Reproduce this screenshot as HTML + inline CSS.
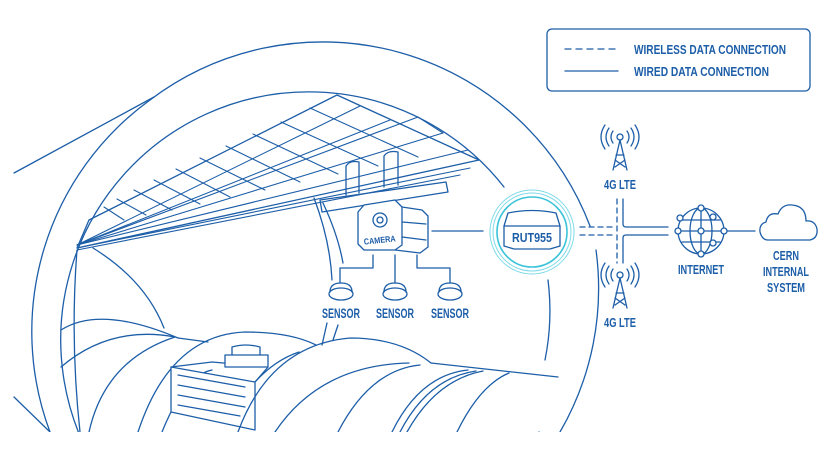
<!DOCTYPE html>
<html><head><meta charset="utf-8"><style>
html,body{margin:0;padding:0;background:#fff;width:826px;height:463px;overflow:hidden}
svg{display:block;position:absolute;left:0;top:0}
text{font-family:"Liberation Sans Narrow","Liberation Sans",sans-serif;font-weight:bold;fill:#1d5ea8}
</style></head><body>
<svg width="826" height="463" viewBox="0 0 826 463" xmlns="http://www.w3.org/2000/svg">
<defs><clipPath id="c"><rect x="0" y="0" width="826" height="432"/></clipPath></defs>
<g fill="none" stroke="#1d5ea8" stroke-width="1.3" stroke-linecap="round" stroke-linejoin="round" clip-path="url(#c)">
<path d="M 590 226 A 286 286 0 0 0 150 100"/>
<path d="M 150 100 A 286 286 0 0 0 50 432"/>
<path d="M 596 250 A 286 286 0 0 1 560 432"/>
<path d="M 504 187 A 248 248 0 1 0 539 432"/>
<path d="M 548 280 A 248 248 0 0 1 545 360"/>
<line x1="14" y1="173" x2="154" y2="97"/>
<line x1="14" y1="397" x2="50" y2="432"/>
<path d="M 77 250 Q 70 340 80 432"/>
<path d="M 89 220 L 337 95 L 479 160 L 77 248 Z"/>
<g stroke-width="1.1">
<line x1="77" y1="245" x2="390" y2="120"/>
<line x1="77" y1="245" x2="418" y2="117"/>
<line x1="77" y1="245" x2="443" y2="133"/>
<line x1="77" y1="245" x2="468" y2="150"/>
<line x1="77" y1="245" x2="360" y2="106"/>
<line x1="77" y1="248" x2="470" y2="168"/>
<line x1="77" y1="250" x2="460" y2="175"/>
<line x1="418" y1="117" x2="443" y2="133"/>
<path d="M 310 108 L 418 157 M 281 122 L 378 166 M 253 134 L 338 174 M 226 146 L 300 182 M 200 158 L 265 190 M 176 169 L 230 197 M 154 180 L 200 204 M 134 190 L 172 210 M 117 199 L 146 215 M 104 207 L 124 220"/>
</g>
<path d="M 320 200 L 446 182 L 448 192 L 322 212 Z"/>
<path d="M 346 195 L 346 166 Q 350 160 359 162 L 359 193"/>
<path d="M 384 187 L 384 156 Q 388 150 398 152 L 398 185"/>
<path d="M 314 198 Q 330 240 332 280"/>
<path d="M 323 203 Q 338 235 343 263"/>
<path d="M 327 323 L 322 345 M 338 325 L 333 340"/>
<path d="M 364 205 L 395 200 L 402 207 L 402 245 L 395 250 L 364 250 L 358 244 L 358 212 Z" fill="#fff"/>
<path d="M 402 207 L 422 210 L 428 216 L 428 247 L 420 253 L 395 250"/>
<path d="M 402 222 L 426 224 M 402 237 L 426 240"/>
<circle cx="380" cy="220" r="7"/><circle cx="380" cy="220" r="3"/>
<line x1="432" y1="231" x2="483" y2="231"/>
<path d="M 373 255 L 373 268 L 340 268 L 340 283"/>
<path d="M 395 255 L 395 283"/>
<path d="M 417 255 L 417 268 L 450 268 L 450 283"/>
<path d="M 330 292 Q 330 283 341 283 Q 352 283 352 292"/><ellipse cx="341" cy="294" rx="12" ry="6"/>
<path d="M 384 292 Q 384 283 395 283 Q 406 283 406 292"/><ellipse cx="395" cy="294" rx="12" ry="6"/>
<path d="M 439 292 Q 439 283 450 283 Q 461 283 461 292"/><ellipse cx="450" cy="294" rx="12" ry="6"/>
<circle cx="532" cy="232" r="42" stroke="#7fdbe8" stroke-width="1"/>
<circle cx="532" cy="232" r="39" stroke="#7fdbe8" stroke-width="1"/>
<circle cx="532" cy="232" r="35" stroke="#3cc4d8" stroke-width="1.6"/>
<path d="M 508 213 Q 532 208 556 213 L 560 226 L 560 246 L 550 249 L 514 249 L 504 246 L 504 226 Z" fill="#fff"/>
<path d="M 504 226 L 560 226"/>
<path d="M 61 330 Q 100 305 178 338"/>
<path d="M 61 367 Q 110 325 175 337"/>
<path d="M 178 338 L 208 342"/>
<path d="M 89 432 Q 105 360 175 337"/>
<path d="M 93 248 Q 145 280 164 328"/>
<path d="M 138 432 Q 170 335 245 332 Q 290 332 316 345"/>
<path d="M 162 432 Q 185 375 212 370"/>
<path d="M 255 382 Q 275 360 299 352"/>
<path d="M 171 367 L 255 382 L 255 430 L 171 412 Z" fill="#fff"/>
<path d="M 171 367 L 212 362 L 268 367 L 255 382"/>
<path d="M 178 375 L 245 387 M 178 385 L 245 397 M 178 395 L 245 407 M 178 405 L 240 416"/>
<path d="M 225 355 L 268 355 L 268 367 L 225 367 Z" fill="#fff"/>
<path d="M 232 355 L 232 347 Q 246 343 260 347 L 260 355"/>
<path d="M 238 432 Q 270 345 350 338 Q 400 338 431 363"/>
<path d="M 431 363 L 558 377"/>
<path d="M 275 432 Q 320 365 409 363"/>
<path d="M 338 432 Q 370 370 420 365"/>
<path d="M 392 432 Q 420 375 468 370 M 400 432 Q 428 378 476 371 M 407 432 Q 436 380 483 371"/>
<path d="M 457 432 Q 480 385 509 373"/>
<g stroke-dasharray="5 4">
<line x1="580" y1="227" x2="616" y2="227"/>
<line x1="580" y1="235" x2="616" y2="235"/>
<line x1="617" y1="199" x2="617" y2="263"/>
</g>
<path d="M 623 199 L 623 224 Q 623 227 626 227 L 668 227"/>
<path d="M 623 263 L 623 238 Q 623 235 626 235 L 668 235"/>
<line x1="725" y1="231" x2="755" y2="231"/>
<circle cx="701" cy="231" r="23"/>
<ellipse cx="701" cy="231" rx="11" ry="23"/>
<path d="M 701 208 L 701 254 M 678 231 L 724 231 M 682 220 L 720 220 M 682 242 L 720 242"/>
<g fill="#fff"><circle cx="701" cy="208" r="3"/><circle cx="701" cy="254" r="3"/><circle cx="678" cy="231" r="3"/><circle cx="724" cy="231" r="3"/><circle cx="701" cy="231" r="3"/><circle cx="680" cy="218" r="3"/><circle cx="713" cy="217" r="3"/><circle cx="713" cy="243" r="3"/></g>
<path d="M 768 240 L 810 240 Q 818 238 817 229 Q 815 220 806 221 Q 806 206 792 205 Q 782 204 778 214 Q 768 212 766 222 Q 759 224 760 232 Q 762 240 768 240 Z"/>
<path d="M 620 140 L 613 170 M 620 140 L 627 170 M 616 155 L 624 155 M 615 160 L 625 167 M 625 160 L 615 167"/>
<circle cx="620" cy="137" r="3"/>
<path d="M 613 131 Q 609 137 613 143 M 609 128 Q 603 137 609 146 M 605 125 Q 597 137 605 149 M 627 131 Q 631 137 627 143 M 631 128 Q 637 137 631 146 M 635 125 Q 643 137 635 149"/>
<g transform="translate(0,138)">
<path d="M 620 140 L 613 170 M 620 140 L 627 170 M 616 155 L 624 155 M 615 160 L 625 167 M 625 160 L 615 167"/>
<circle cx="620" cy="137" r="3"/>
<path d="M 613 131 Q 609 137 613 143 M 609 128 Q 603 137 609 146 M 605 125 Q 597 137 605 149 M 627 131 Q 631 137 627 143 M 631 128 Q 637 137 631 146 M 635 125 Q 643 137 635 149"/>
</g>
<rect x="547" y="29" width="263" height="62" rx="5"/>
<line x1="565" y1="49" x2="618" y2="49" stroke-dasharray="6 5"/>
<line x1="565" y1="71" x2="618" y2="71"/>
</g>
<g>
<text x="634" y="54" font-size="12.5" textLength="152" lengthAdjust="spacingAndGlyphs">WIRELESS DATA CONNECTION</text>
<text x="634" y="76" font-size="12.5" textLength="135" lengthAdjust="spacingAndGlyphs">WIRED DATA CONNECTION</text>
<text x="380" y="243" font-size="8.5" text-anchor="middle" textLength="32" lengthAdjust="spacingAndGlyphs" transform="rotate(-6 380 243)">CAMERA</text>
<text x="532" y="242" font-size="12.5" text-anchor="middle" textLength="40" lengthAdjust="spacingAndGlyphs">RUT955</text>
<text x="341" y="318" font-size="13.5" text-anchor="middle" textLength="38" lengthAdjust="spacingAndGlyphs">SENSOR</text>
<text x="395" y="318" font-size="13.5" text-anchor="middle" textLength="38" lengthAdjust="spacingAndGlyphs">SENSOR</text>
<text x="450" y="318" font-size="13.5" text-anchor="middle" textLength="38" lengthAdjust="spacingAndGlyphs">SENSOR</text>
<text x="620" y="189" font-size="12.5" text-anchor="middle" textLength="32" lengthAdjust="spacingAndGlyphs">4G LTE</text>
<text x="620" y="327" font-size="12.5" text-anchor="middle" textLength="32" lengthAdjust="spacingAndGlyphs">4G LTE</text>
<text x="701" y="274" font-size="12.5" text-anchor="middle" textLength="46" lengthAdjust="spacingAndGlyphs">INTERNET</text>
<text x="786" y="260" font-size="12.5" text-anchor="middle" textLength="26" lengthAdjust="spacingAndGlyphs">CERN</text>
<text x="786" y="276" font-size="12.5" text-anchor="middle" textLength="46" lengthAdjust="spacingAndGlyphs">INTERNAL</text>
<text x="786" y="292" font-size="12.5" text-anchor="middle" textLength="38" lengthAdjust="spacingAndGlyphs">SYSTEM</text>
</g>
</svg>
</body></html>
